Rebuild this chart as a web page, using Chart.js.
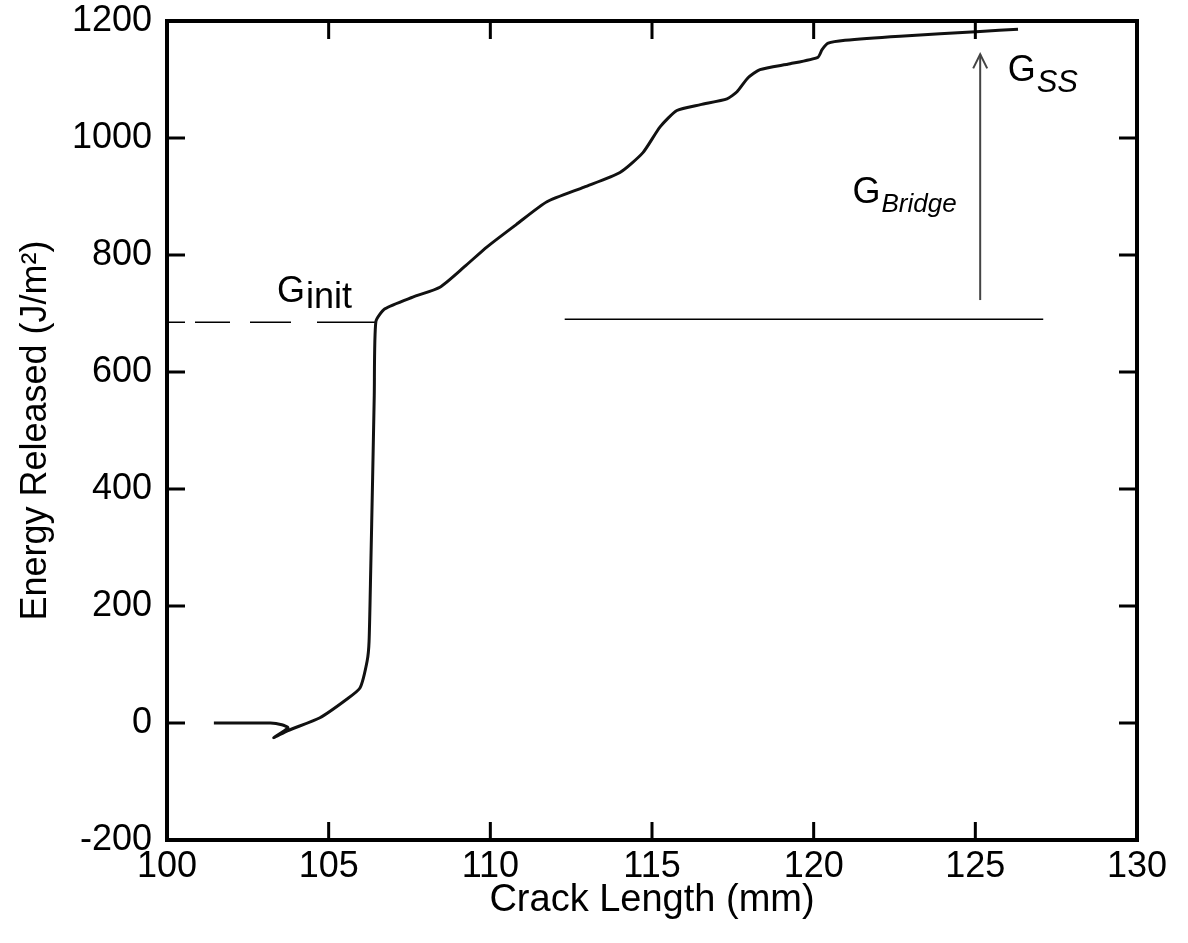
<!DOCTYPE html>
<html>
<head>
<meta charset="utf-8">
<script src="https://cdn.jsdelivr.net/npm/chart.js@4.4.1/dist/chart.umd.min.js"></script>
<style>
  body { margin: 0; background: #fff; }
  #wrap { width: 1188px; height: 943px; }
</style>
</head>
<body>
<div id="wrap"><canvas id="crack-chart"></canvas></div>
<script>
// R-curve trace
var crackLength = [101.45, 103.2, 103.55, 103.74, 103.3, 103.74, 104.73, 105.57, 105.97, 106.19,
	106.25, 106.3, 106.36, 106.41, 106.46, 106.74, 107.6, 108.44, 109.2, 109.9,
	110.8, 111.75, 112.9, 114.01, 114.72, 115.25, 115.77, 116.5, 117.32, 117.63,
	117.97, 118.34, 119.27, 120.13, 120.26, 120.45, 120.97, 122.67, 125.15, 126.32];
var energyReleased = [0, 0, -3, -8, -25, -13, 9, 41, 60, 106,
	140, 260, 420, 560, 686, 708, 728, 745, 780, 814,
	852, 891, 916, 941, 975, 1019, 1047, 1057, 1067, 1079,
	1103, 1117, 1127, 1138, 1151, 1162, 1167, 1174, 1182, 1186];

// annotation lines
var gInitX = [100, 106.46];
var gInitY = [685, 685];
var bridgeBaseX = [112.3, 127.1];
var bridgeBaseY = [690, 690];
var arrowX = [125.15, 125.15];
var arrowY = [723, 1143];

var xTicks = [100, 105, 110, 115, 120, 125, 130];
var yTicks = [-200, 0, 200, 400, 600, 800, 1000, 1200];

function toPoints(xs, ys){
	var pts = [];
	for (var i = 0; i < xs.length; i++) pts.push({x: xs[i], y: ys[i]});
	return pts;
}

var FONT = "'Liberation Sans', Arial, Helvetica, sans-serif";
Chart.defaults.font.family = FONT;
Chart.defaults.color = "#000";

var framePlugin = {
	id: "frame",
	afterDatasetsDraw: function(chart){
		var ctx = chart.ctx;
		var a = chart.chartArea;
		var xs = chart.scales.x, ys = chart.scales.y;
		var tl = 18;
		ctx.save();
		ctx.strokeStyle = "#000";
		ctx.lineWidth = 3;
		xTicks.forEach(function(v){
			var px = xs.getPixelForValue(v);
			ctx.beginPath();
			ctx.moveTo(px, a.bottom); ctx.lineTo(px, a.bottom - tl);
			ctx.moveTo(px, a.top); ctx.lineTo(px, a.top + tl);
			ctx.stroke();
		});
		yTicks.forEach(function(v){
			var py = ys.getPixelForValue(v);
			ctx.beginPath();
			ctx.moveTo(a.left, py); ctx.lineTo(a.left + tl, py);
			ctx.moveTo(a.right, py); ctx.lineTo(a.right - tl, py);
			ctx.stroke();
		});
		ctx.lineWidth = 4;
		ctx.strokeRect(a.left, a.top, a.right - a.left, a.bottom - a.top);

		// arrow head
		var ax = xs.getPixelForValue(arrowX[1]);
		var ay = ys.getPixelForValue(arrowY[1]);
		ctx.strokeStyle = "#444";
		ctx.lineWidth = 2;
		ctx.beginPath();
		ctx.moveTo(ax - 7, ay + 14); ctx.lineTo(ax, ay); ctx.lineTo(ax + 7, ay + 14);
		ctx.stroke();

		// labels
		ctx.fillStyle = "#000";
		ctx.textBaseline = "alphabetic";
		ctx.textAlign = "left";
		function label(main, sub, vx, vy, subFont, subDrop){
			var px = xs.getPixelForValue(vx), py = ys.getPixelForValue(vy);
			ctx.font = "36px " + FONT;
			ctx.fillText(main, px, py);
			var w = ctx.measureText(main).width;
			ctx.font = subFont;
			ctx.fillText(sub, px + w + 1, py + subDrop);
		}
		label("G", "init", 103.4, 720, "36px " + FONT, 6);
		label("G", "Bridge", 121.2, 889, "italic 26px " + FONT, 9);
		label("G", "SS", 126.0, 1097, "italic 31px " + FONT, 11);
		ctx.restore();
	}
};

new Chart("crack-chart", {
	type: "scatter",
	data: {
		datasets: [{
			data: toPoints(crackLength, energyReleased),
			showLine: true,
			borderColor: "#111",
			borderWidth: 3,
			pointRadius: 0,
			tension: 0.2
		}, {
			data: toPoints(gInitX, gInitY),
			showLine: true,
			borderColor: "#000",
			borderWidth: 1.5,
			borderDash: [18, 10, 35, 20, 41, 26, 60, 10],
			pointRadius: 0
		}, {
			data: toPoints(bridgeBaseX, bridgeBaseY),
			showLine: true,
			borderColor: "#000",
			borderWidth: 1.5,
			pointRadius: 0
		}, {
			data: toPoints(arrowX, arrowY),
			showLine: true,
			borderColor: "#444",
			borderWidth: 2,
			pointRadius: 0
		}]
	},
	options: {
		responsive: true,
		maintainAspectRatio: false,
		animation: false,
		layout: {padding: {top: 21, right: 51, left: 0, bottom: 0}},
		plugins: {legend: {display: false}, tooltip: {enabled: false}},
		scales: {
			x: {
				type: "linear",
				min: 100, max: 130,
				afterFit: function(s){ s.height = 103; s.paddingLeft = 0; s.paddingRight = 0; },
				afterBuildTicks: function(s){ s.ticks = xTicks.map(function(v){ return {value: v}; }); },
				grid: {display: false, drawTicks: false},
				border: {display: false},
				ticks: {font: {size: 36}, padding: 5, maxRotation: 0, callback: function(v){ return String(v); }},
				title: {display: true, text: "Crack Length (mm)", font: {size: 38}, padding: {top: 4, bottom: 20}}
			},
			y: {
				type: "linear",
				min: -200, max: 1200,
				afterFit: function(s){ s.width = 167; s.paddingTop = 0; s.paddingBottom = 0; },
				afterBuildTicks: function(s){ s.ticks = yTicks.map(function(v){ return {value: v}; }); },
				grid: {display: false, drawTicks: false},
				border: {display: false},
				ticks: {font: {size: 36}, padding: 15, callback: function(v){ return String(v); }},
				title: {display: true, text: "Energy Released (J/m²)", font: {size: 36}, padding: {top: 14, bottom: 0}}
			}
		}
	},
	plugins: [framePlugin]
});
</script>
</body>
</html>
